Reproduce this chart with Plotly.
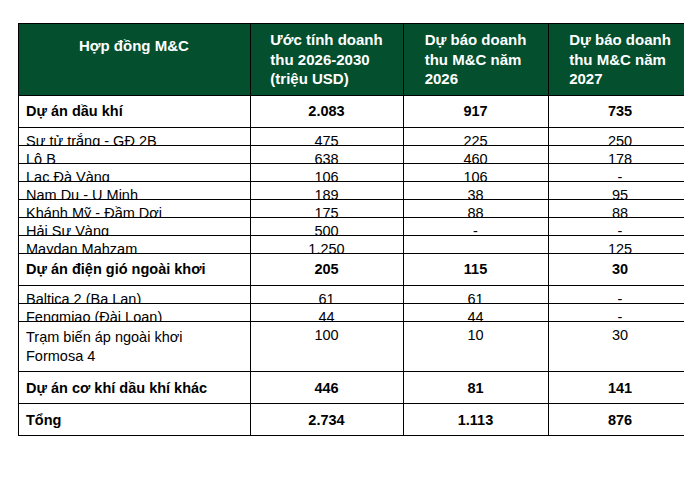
import plotly.graph_objects as go

headers = ["<br>Hợp đồng M&C<br> ", "Ước tính doanh<br>thu 2026-2030<br>(triệu USD)",
           "Dự báo doanh<br>thu M&C năm<br>2026", "Dự báo doanh<br>thu M&C năm<br>2027"]

projects = ["Dự án dầu khí", "Sư tử trắng - GĐ 2B", "Lô B", "Lạc Đà Vàng", "Nam Du - U Minh",
            "Khánh Mỹ - Đầm Dơi", "Hải Sư Vàng", "Maydan Mahzam", "Dự án điện gió ngoài khơi",
            "Baltica 2 (Ba Lan)", "Fengmiao (Đài Loan)", "Trạm biến áp ngoài khơi<br>Formosa 4",
            "Dự án cơ khí dầu khí khác", "Tổng"]
rev_2026_2030 = ["2.083", "475", "638", "106", "189", "175", "500", "1.250", "205",
                 "61", "44", "100", "446", "2.734"]
rev_2026 = ["917", "225", "460", "106", "38", "88", "-", "", "115", "61", "44", "10", "81", "1.113"]
rev_2027 = ["735", "250", "178", "-", "95", "88", "-", "125", "30", "-", "-", "30", "141", "876"]
bold_rows = [0, 8, 12, 13]


def fmt(col):
    return [f"<b>{v}</b>" if i in bold_rows and v else v for i, v in enumerate(col)]


fig = go.Figure(go.Table(
    domain=dict(x=[10 / 692, 684 / 692], y=[0, 1]),
    columnwidth=[232, 153, 145, 144],
    header=dict(
        values=[f"<b>{h}</b>" for h in headers],
        fill_color="#034f2e",
        line=dict(color="black", width=1),
        font=dict(family="Liberation Sans, Arial", size=15, color="white"),
        align="center",
        height=20,
    ),
    cells=dict(
        values=[fmt(projects), fmt(rev_2026_2030), fmt(rev_2026), fmt(rev_2027)],
        fill_color="white",
        line=dict(color="black", width=1),
        font=dict(family="Liberation Sans, Arial", size=14.5, color="black"),
        align=["left", "center", "center", "center"],
        height=18,
    ),
))

fig.update_layout(width=692, height=479, margin=dict(l=0, r=0, t=15, b=0),
                  paper_bgcolor="white")
fig.write_html("out.html")
